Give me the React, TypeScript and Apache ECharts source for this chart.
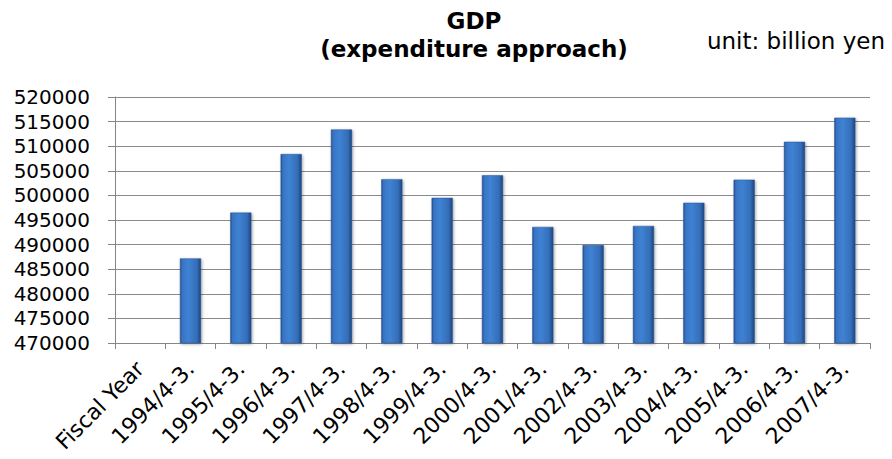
import React, { useEffect, useRef } from "react";
import * as echarts from "echarts";

// Fiscal-year categories; the first slot is the axis caption and carries no bar.
const categories: string[] = [
  "Fiscal Year",
  "1994/4-3.",
  "1995/4-3.",
  "1996/4-3.",
  "1997/4-3.",
  "1998/4-3.",
  "1999/4-3.",
  "2000/4-3.",
  "2001/4-3.",
  "2002/4-3.",
  "2003/4-3.",
  "2004/4-3.",
  "2005/4-3.",
  "2006/4-3.",
  "2007/4-3.",
];

// GDP (expenditure approach), billion yen
const gdpValues: (number | null)[] = [
  null,
  487200,
  496500,
  508400,
  513400,
  503300,
  499500,
  504100,
  493600,
  489900,
  493800,
  498500,
  503200,
  510900,
  515800,
];

const yMin = 470000;
const yMax = 520000;
const yStep = 5000;

const titleLines: string[] = ["GDP", "(expenditure approach)"];
const unitLabel = "unit: billion yen";

const FONT = "DejaVu Sans";

export default function App() {
  const ref = useRef<HTMLDivElement>(null);

  useEffect(() => {
    if (!ref.current) return;
    const chart = echarts.init(ref.current, null, { renderer: "svg" });

    const barFill = new echarts.graphic.LinearGradient(0, 0, 1, 0, [
      { offset: 0, color: "#254f8c" },
      { offset: 0.1, color: "#3874c4" },
      { offset: 0.4, color: "#3f82d3" },
      { offset: 0.8, color: "#356eb9" },
      { offset: 1, color: "#1d467f" },
    ]);

    chart.setOption({
      animation: false,
      backgroundColor: "#ffffff",
      graphic: [
        {
          type: "text",
          x: 474,
          y: 21,
          style: {
            text: titleLines[0],
            fontFamily: FONT,
            fontWeight: "bold",
            fontSize: 23,
            fill: "#000000",
            textAlign: "center",
            textVerticalAlign: "middle",
          },
        },
        {
          type: "text",
          x: 474,
          y: 49,
          style: {
            text: titleLines[1],
            fontFamily: FONT,
            fontWeight: "bold",
            fontSize: 23,
            fill: "#000000",
            textAlign: "center",
            textVerticalAlign: "middle",
          },
        },
        {
          type: "text",
          x: 885,
          y: 41,
          style: {
            text: unitLabel,
            fontFamily: FONT,
            fontSize: 23,
            fill: "#000000",
            textAlign: "right",
            textVerticalAlign: "middle",
          },
        },
      ],
      grid: {
        left: 115,
        right: 22,
        top: 97,
        bottom: 116,
        containLabel: false,
        outerBoundsMode: "none",
      },
      xAxis: {
        type: "category",
        data: categories,
        boundaryGap: true,
        axisLine: { show: true, lineStyle: { color: "#868686", width: 1 } },
        axisTick: {
          show: true,
          alignWithLabel: false,
          length: 6,
          lineStyle: { color: "#868686" },
        },
        axisLabel: {
          interval: 0,
          rotate: 45,
          margin: 22,
          fontFamily: FONT,
          fontSize: 22,
          color: "#000000",
        },
        splitLine: { show: false },
      },
      yAxis: {
        type: "value",
        min: yMin,
        max: yMax,
        interval: yStep,
        axisLine: { show: true, lineStyle: { color: "#868686", width: 1 } },
        axisTick: {
          show: true,
          inside: false,
          length: 7,
          lineStyle: { color: "#868686" },
        },
        axisLabel: {
          margin: 25,
          fontFamily: FONT,
          fontSize: 20,
          color: "#000000",
          formatter: (v: number) => String(v),
        },
        splitLine: { show: true, lineStyle: { color: "#8a8a8a", width: 1 } },
      },
      series: [
        {
          type: "bar",
          data: gdpValues,
          barWidth: "42%",
          itemStyle: {
            color: barFill,
            borderColor: "#2a5596",
            borderWidth: 0.5,
            shadowColor: "rgba(0,0,0,0.35)",
            shadowBlur: 3,
            shadowOffsetX: 1,
            shadowOffsetY: 1,
          },
        },
      ],
    });

    return () => {
      chart.dispose();
    };
  }, []);

  return <div ref={ref} style={{ width: 892, height: 459, margin: -8 }} />;
}
